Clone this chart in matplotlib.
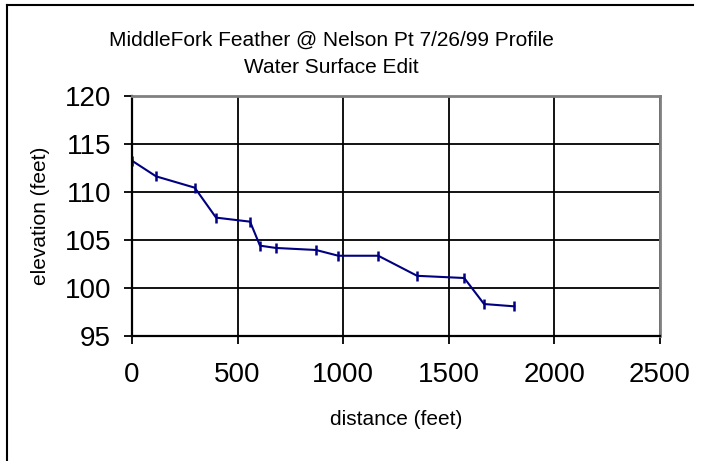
import matplotlib
matplotlib.use('Agg')
import matplotlib.pyplot as plt
from matplotlib.lines import Line2D

plt.rcParams['font.family'] = ['Liberation Sans', 'DejaVu Sans']

# profile points
distance = [0, 114, 297, 398, 559, 606, 682, 871, 977, 1166, 1350, 1573, 1667, 1810]
elevation = [113.26, 111.63, 110.45, 107.33, 106.91, 104.41, 104.17, 103.96,
             103.36, 103.36, 101.27, 101.04, 98.33, 98.09]
x_ticks = [0, 500, 1000, 1500, 2000, 2500]
y_ticks = [95, 100, 105, 110, 115, 120]

W, H = 702, 461
fig = plt.figure(figsize=(W / 100, H / 100), dpi=100)
ax = fig.add_axes([132 / W, 1 - 336 / H, 528 / W, 240 / H])

ax.plot(distance, elevation, color='#000080', lw=1.5, marker='|',
        markersize=7, markeredgewidth=1.8)

ax.set_xlim(0, 2500)
ax.set_ylim(95, 120)
ax.set_xticks(x_ticks)
ax.set_yticks(y_ticks)
ax.grid(True, color='black', lw=1.3)
ax.set_axisbelow(True)
ax.tick_params(axis='both', labelsize=20, length=6, width=1.3, color='black')
ax.tick_params(axis='y', pad=9)
ax.tick_params(axis='x', pad=13)

for side in ('top', 'right'):
    ax.spines[side].set_color('#808080')
    ax.spines[side].set_linewidth(2.0)
for side in ('left', 'bottom'):
    ax.spines[side].set_color('black')
    ax.spines[side].set_linewidth(1.6)

# gray shadow just under the bottom axis line
ax.plot([0, 1], [0, 0], transform=ax.transAxes, color='#808080', lw=1.2,
        clip_on=False, zorder=1.5)

# titles and axis labels
fig.text(331 / W, 1 - 46 / H, 'MiddleFork Feather @ Nelson Pt 7/26/99 Profile',
         ha='center', va='baseline', fontsize=15)
fig.text(331 / W, 1 - 73 / H, 'Water Surface Edit',
         ha='center', va='baseline', fontsize=15)
fig.text(396 / W, 1 - 425 / H, 'distance (feet)',
         ha='center', va='baseline', fontsize=15)
fig.text(40 / W, 1 - 216 / H, 'elevation (feet)', rotation=90,
         ha='center', va='center', fontsize=15)

# outer chart frame (only top and left edges show)
fig.add_artist(Line2D([6.5 / W, 6.5 / W], [0, 1 - 5.5 / H], color='black', lw=1.5))
fig.add_artist(Line2D([6.5 / W, 693 / W], [1 - 5.5 / H, 1 - 5.5 / H], color='black', lw=1.5))

fig.savefig('out.png', dpi=100)
